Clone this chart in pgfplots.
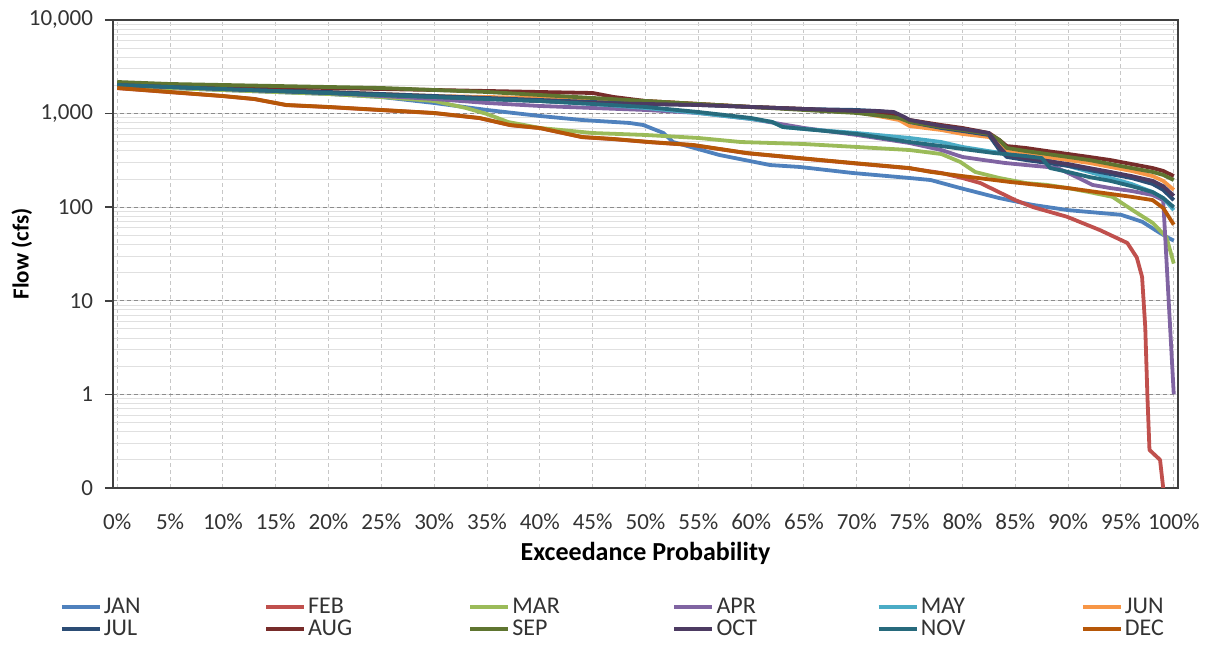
\documentclass[border=0pt]{standalone}
\usepackage{fontspec}
\setmainfont{Carlito}
\usepackage{pgfplots}
\pgfplotsset{compat=1.18}
\definecolor{cJAN}{HTML}{4F81BD}
\definecolor{cFEB}{HTML}{C0504D}
\definecolor{cMAR}{HTML}{9BBB59}
\definecolor{cAPR}{HTML}{8064A2}
\definecolor{cMAY}{HTML}{4BACC6}
\definecolor{cJUN}{HTML}{F79646}
\definecolor{cJUL}{HTML}{2C4D75}
\definecolor{cAUG}{HTML}{772C2A}
\definecolor{cSEP}{HTML}{5F7530}
\definecolor{cOCT}{HTML}{4D3B62}
\definecolor{cNOV}{HTML}{276A7C}
\definecolor{cDEC}{HTML}{B65708}
\begin{document}
\begin{tikzpicture}
\begin{axis}[
  name=ax,
  scale only axis,
  width=532.5pt, height=234pt,
  ymode=log,
  ymin=0.1, ymax=10000,
  xmin=-0.4, xmax=100.4,
  ytick={0.1,1,10,100,1000,10000},
  yticklabels={0,1,10,100,{1,000},{10,000}},
  xtick={0,5,10,15,20,25,30,35,40,45,50,55,60,65,70,75,80,85,90,95,100},
  xticklabels={0\%,5\%,10\%,15\%,20\%,25\%,30\%,35\%,40\%,45\%,50\%,55\%,60\%,65\%,70\%,75\%,80\%,85\%,90\%,95\%,100\%},
  ticklabel style={font=\fontsize{11.5}{14}\selectfont, text=black!80},
  xticklabel style={yshift=-5.5pt},
  yticklabel style={xshift=-2.5pt},
  xmajorgrids, ymajorgrids, yminorgrids,
  major x grid style={dash pattern=on 2pt off 1.5pt, black!22, line width=0.5pt},
  major y grid style={dash pattern=on 2pt off 1.5pt, black!45, line width=0.5pt},
  minor y grid style={black!12, line width=0.5pt},
  axis line style={black!75, line width=0.8pt},
  tick align=outside,
  major tick length=4pt,
  minor tick length=0pt,
  ytick pos=left,
  xtick style={draw=none},
  ytick style={black!75, line width=0.8pt},
  xlabel={\textbf{Exceedance Probability}},
  ylabel={\textbf{Flow (cfs)}},
  every axis x label/.style={at={(axis description cs:0.5,-0.139)},anchor=center,font=\fontsize{13}{15}\selectfont},
  every axis y label/.style={at={(axis description cs:-0.0855,0.5)},rotate=90,anchor=center,font=\fontsize{11.5}{14}\selectfont},
  legend columns=6,
  legend image code/.code={\draw[#1, line width=2.1pt] (0pt,0pt) -- (19pt,0pt);},
  legend style={draw=none, fill=none, at={(axis description cs:-0.056,-0.222)}, anchor=north west,
    font=\fontsize{12}{14}\selectfont, text=black!80,
    nodes={text width=30pt, inner sep=1pt, text height=7.5pt, text depth=1.5pt, align=left},
    /tikz/every even column/.append style={column sep=49pt},
    row sep=0pt},
  every axis plot/.append style={line width=1.9pt, line join=round},
]
\addplot[cJAN] coordinates {(0,1972)(5,1877)(10,1787)(15,1701)(20,1620)(25,1504)(30,1298)(35,1093)(40,943)(44,854)(48.5,794)(49.8,755)(51.7,620)(52.6,497)(57,361)(61.8,282)(64.6,269)(69.6,232)(75,205)(77,195)(79.8,160)(83.5,125)(86.6,106)(90,93)(95,83)(97,70)(98.7,53)(99.5,47)(100,44)};
\addlegendentry{JAN}
\addplot[cFEB] coordinates {(0,1870)(5,1695)(10,1537)(13,1428)(14.5,1326)(16,1232)(20,1173)(25,1090)(30,1012)(34.3,894)(37.2,752)(40,700)(44,560)(47,533)(50.4,495)(54.5,460)(59.6,377)(64.6,333)(69.6,295)(75,260)(78,232)(80,205)(81.7,181)(85,119)(86.7,100)(89.9,79)(93,57)(95.6,41.5)(96.5,29)(97,18)(97.3,5.25)(97.5,1.0)(97.7,0.255)(98.7,0.2)(99,0.1)};
\addlegendentry{FEB}
\addplot[cMAR] coordinates {(0,1972)(5,1877)(10,1787)(15,1701)(20,1620)(25,1504)(30,1363)(33,1148)(35,990)(37,813)(40,702)(45,620)(50,591)(55,549)(59,497)(65,473)(70,440)(75,408)(78,370)(79.8,304)(81.2,238)(83.5,205)(86,181)(88,173)(90,160)(92,145)(94.2,129)(96.1,93)(98,68)(99.3,48)(100,25)};
\addlegendentry{MAR}
\addplot[cAPR] coordinates {(0,2021)(5,1924)(10,1831)(15,1744)(20,1660)(25,1542)(30,1432)(35,1298)(40,1206)(45,1148)(50,1093)(55,1015)(60,876)(65,702)(70,591)(75,485)(78,408)(80,344)(82,319)(84,297)(86,282)(88,269)(89,262)(91,205)(92.3,173)(94,160)(96,149)(98,135)(99,119)(100,1.0)};
\addlegendentry{APR}
\addplot[cMAY] coordinates {(0,2021)(5,1924)(10,1831)(15,1744)(20,1660)(25,1580)(30,1504)(35,1432)(40,1363)(45,1267)(50,1148)(55,1015)(60,876)(62,813)(63,719)(65,685)(70,620)(75,549)(78,497)(80,440)(83,389)(86,352)(88,319)(90,276)(92,238)(94,205)(96,177)(98,145)(99,125)(100,93)};
\addlegendentry{MAY}
\addplot[cJUN] coordinates {(0,2071)(5,1972)(10,1877)(15,1787)(20,1701)(25,1620)(30,1542)(35,1504)(40,1468)(45,1432)(50,1363)(55,1267)(60,1177)(65,1120)(70,1040)(74,854)(75,737)(78,668)(80,606)(82.5,562)(83.5,485)(84.2,408)(86,370)(88,344)(90,319)(92,297)(94,269)(96,244)(98,215)(99,191)(100,153)};
\addlegendentry{JUN}
\addplot[cJUL] coordinates {(0,2071)(5,1972)(10,1877)(15,1787)(20,1701)(25,1620)(30,1542)(35,1468)(40,1397)(45,1330)(50,1267)(55,1236)(60,1177)(65,1120)(70,1093)(72,1066)(73.5,1015)(74.5,876)(75,813)(78,702)(80,652)(82.5,591)(83.5,408)(84.2,344)(86,319)(88,297)(90,276)(92,250)(94,226)(96,205)(98,177)(99,153)(100,119)};
\addlegendentry{JUL}
\addplot[cAUG] coordinates {(0,2123)(5,2021)(10,1972)(15,1924)(20,1877)(25,1831)(30,1787)(35,1744)(40,1701)(45,1660)(47,1504)(50,1363)(55,1267)(60,1177)(65,1120)(70,1040)(74,943)(75,854)(78,755)(80,702)(82.5,620)(83.5,522)(84.2,450)(86,429)(88,398)(90,370)(92,344)(94,319)(96,289)(98,262)(99,244)(100,215)};
\addlegendentry{AUG}
\addplot[cSEP] coordinates {(0,2176)(5,2071)(10,2021)(15,1972)(20,1924)(25,1877)(30,1787)(35,1701)(40,1580)(45,1468)(50,1363)(55,1267)(60,1177)(65,1093)(70,1015)(74,897)(75,813)(78,719)(80,668)(82.5,606)(83.5,522)(84.2,429)(86,398)(88,370)(90,344)(92,319)(94,289)(96,262)(98,238)(99,221)(100,195)};
\addlegendentry{SEP}
\addplot[cOCT] coordinates {(0,2021)(5,1924)(10,1831)(15,1744)(20,1660)(25,1580)(30,1504)(35,1432)(40,1363)(45,1298)(50,1267)(55,1236)(60,1177)(65,1120)(70,1066)(72,1066)(73.5,1040)(74.5,920)(75,854)(78,737)(80,685)(82.5,620)(83.5,440)(84.2,361)(86,335)(88,312)(90,289)(92,262)(94,238)(96,215)(98,191)(99,168)(100,132)};
\addlegendentry{OCT}
\addplot[cNOV] coordinates {(0,2021)(5,1924)(10,1831)(15,1744)(20,1660)(25,1580)(30,1504)(35,1432)(40,1363)(45,1267)(50,1177)(55,1040)(60,897)(62,813)(63,719)(65,685)(70,606)(75,497)(78,450)(80,419)(83,379)(86,352)(87.5,335)(88.3,262)(90,238)(92,210)(94,191)(96,168)(98,145)(99,125)(100,100)};
\addlegendentry{NOV}
\addplot[cDEC] coordinates {(0,1877)(5,1701)(10,1542)(13,1432)(14.5,1330)(16,1236)(20,1177)(25,1093)(30,1015)(34.3,897)(37.2,755)(40,702)(44,562)(47,535)(50.4,497)(54.5,462)(59.6,379)(64.6,335)(69.6,297)(75,262)(77,238)(80,215)(84.5,186)(90,160)(96,129)(98,119)(99,98)(100,65)};
\addlegendentry{DEC}
\end{axis}
\path (ax.south west) ++(-56.5pt,-75pt) rectangle ++(603.5pt,319pt);
\end{tikzpicture}
\end{document}
